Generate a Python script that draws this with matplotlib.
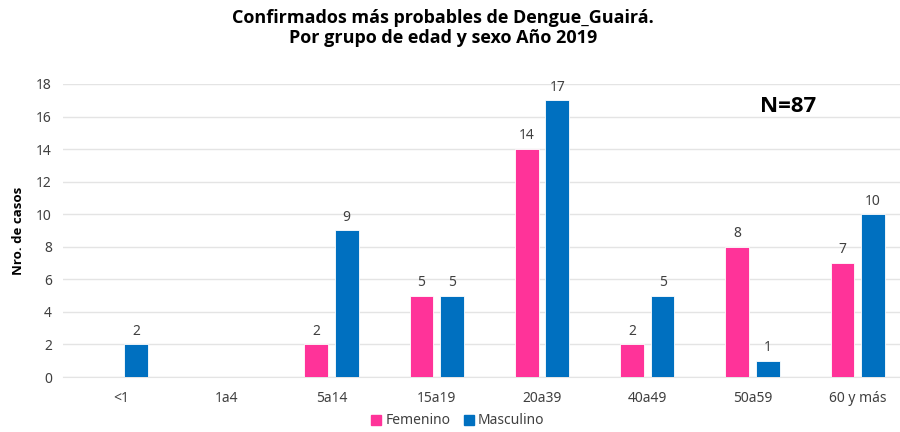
import numpy as np
import matplotlib
matplotlib.use("Agg")
import matplotlib.pyplot as plt

plt.rcParams['font.family'] = ['Noto Sans', 'DejaVu Sans']
bold_family = ['Open Sans', 'DejaVu Sans']

grupos = ['<1', '1a4', '5a14', '15a19', '20a39', '40a49', '50a59', '60 y más']
femenino = [0, 0, 2, 5, 14, 2, 8, 7]
masculino = [2, 0, 9, 5, 17, 5, 1, 10]

color_fem = '#FF3399'
color_mas = '#0070C0'

fig = plt.figure(figsize=(9, 4.32), dpi=100)
ax = fig.add_axes([0.07, 0.1273, 0.93, 0.6783])

x = np.arange(len(grupos))
w = 0.225
off = 0.145

for i in range(len(grupos)):
    if femenino[i] > 0:
        ax.bar(x[i] - off, femenino[i], w, color=color_fem, edgecolor='white', linewidth=0.6, zorder=3)
        ax.text(x[i] - off, femenino[i] + 0.35, str(femenino[i]), ha='center', va='bottom',
                fontsize=10, color='#404040')
    if masculino[i] > 0:
        ax.bar(x[i] + off, masculino[i], w, color=color_mas, edgecolor='white', linewidth=0.6, zorder=3)
        ax.text(x[i] + off, masculino[i] + 0.35, str(masculino[i]), ha='center', va='bottom',
                fontsize=10, color='#404040')

ax.set_xlim(-0.55, 7.40)
ax.set_ylim(0, 18)
ax.set_yticks(range(0, 19, 2))
ax.set_xticks(x)
ax.set_xticklabels(grupos)
ax.tick_params(axis='both', length=0, labelsize=10, colors='#404040')
ax.tick_params(axis='x', pad=10)
ax.tick_params(axis='y', pad=8)
ax.grid(axis='y', color='#E4E4E4', linewidth=1, zorder=0)
for s in ['top', 'right', 'left']:
    ax.spines[s].set_visible(False)
ax.spines['bottom'].set_color('#E4E4E4')
ax.set_ylabel('Nro. de casos', fontsize=9.5, fontweight='bold', family=bold_family, labelpad=8)

fig.text(788 / 900, 1 - 107 / 432, 'N=87', fontsize=16, fontweight='bold', family=bold_family,
         ha='center', va='center')

fig.text(443 / 900, 1 - 28 / 432,
         'Confirmados más probables de Dengue_Guairá.\nPor grupo de edad y sexo Año 2019',
         ha='center', va='center', fontsize=13, fontweight='bold', family=bold_family,
         linespacing=1.15)

h1 = plt.Rectangle((0, 0), 1, 1, color=color_fem)
h2 = plt.Rectangle((0, 0), 1, 1, color=color_mas)
fig.legend([h1, h2], ['Femenino', 'Masculino'], loc='center', bbox_to_anchor=(458 / 900, 1 - 421 / 432),
           ncol=2, frameon=False, fontsize=10, handlelength=0.7, handleheight=0.7,
           handletextpad=0.3, columnspacing=1.0, labelcolor='#404040')

plt.savefig('out.png', dpi=100)
